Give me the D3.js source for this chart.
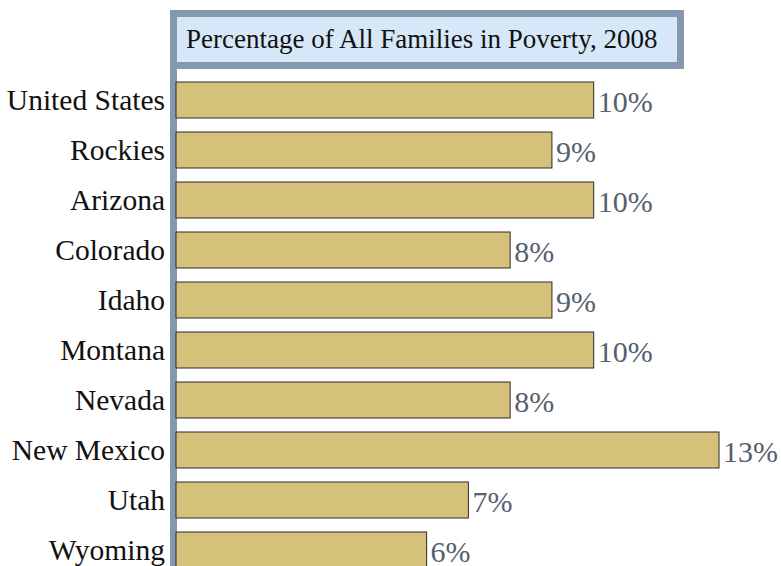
<!DOCTYPE html>
<html>
<head>
<meta charset="utf-8">
<script src="https://cdn.jsdelivr.net/npm/d3@7"></script>
<style>
  body { margin: 0; background: #fff; }
  svg { display: block; font-family: "Liberation Serif", "Times New Roman", serif; }
</style>
</head>
<body>
<script>
// data
const regions = ["United States", "Rockies", "Arizona", "Colorado", "Idaho",
  "Montana", "Nevada", "New Mexico", "Utah", "Wyoming"];
const poverty = [10, 9, 10, 8, 9, 10, 8, 13, 7, 6];
const title = "Percentage of All Families in Poverty, 2008";

const width = 781, height = 566;
const axisX = 176;

const svg = d3.select("body").append("svg")
  .attr("width", width)
  .attr("height", height);

const x = d3.scaleLinear().domain([0, 13]).range([axisX, 719]);
const y = d3.scaleBand().domain(regions).range([75, 575])
  .paddingInner(0.28).paddingOuter(0.14);

const rows = regions.map((r, i) => ({ region: r, value: poverty[i] }));

// vertical axis bar (left border of title box, extended down)
svg.append("line")
  .attr("x1", 173.5).attr("x2", 173.5)
  .attr("y1", 10).attr("y2", height)
  .attr("stroke", "#8499b0")
  .attr("stroke-width", 7);

// title box
svg.append("rect")
  .attr("x", 173.5).attr("y", 13.5)
  .attr("width", 507).attr("height", 52)
  .attr("fill", "#d6e8f8")
  .attr("stroke", "#8499b0")
  .attr("stroke-width", 7);

svg.append("text")
  .attr("x", 186).attr("y", 48)
  .attr("font-size", 27)
  .attr("fill", "#111")
  .text(title);

// bars
svg.selectAll(".bar").data(rows).enter()
  .append("rect")
  .attr("class", "bar")
  .attr("x", x(0))
  .attr("y", d => y(d.region))
  .attr("width", d => x(d.value) - x(0))
  .attr("height", y.bandwidth())
  .attr("fill", "#d5c17a")
  .attr("stroke", "#2a2a2a")
  .attr("stroke-width", 1);

// category labels
svg.selectAll(".cat").data(rows).enter()
  .append("text")
  .attr("class", "cat")
  .attr("x", 165)
  .attr("y", d => y(d.region) + y.bandwidth() / 2)
  .attr("dy", "0.33em")
  .attr("text-anchor", "end")
  .attr("font-size", 29.5)
  .attr("fill", "#111")
  .text(d => d.region);

// value labels
svg.selectAll(".val").data(rows).enter()
  .append("text")
  .attr("class", "val")
  .attr("x", d => x(d.value) + 4)
  .attr("y", d => y(d.region) + y.bandwidth() / 2)
  .attr("dy", "0.4em")
  .attr("font-size", 30)
  .attr("fill", "#56606e")
  .text(d => d.value + "%");
</script>
</body>
</html>
